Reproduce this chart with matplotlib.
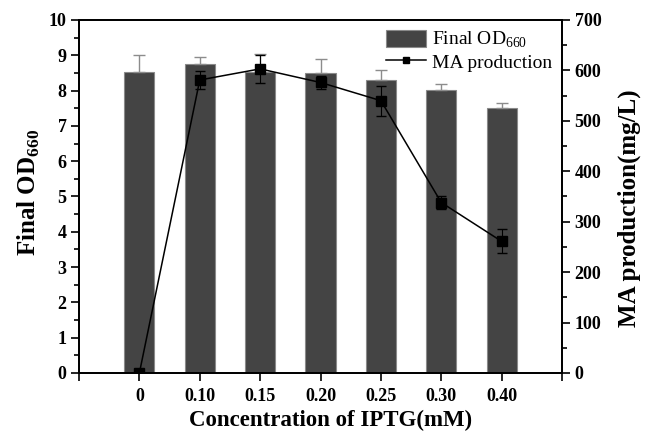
import matplotlib
matplotlib.use('Agg')
import matplotlib.pyplot as plt
from matplotlib.ticker import MultipleLocator
from matplotlib.lines import Line2D

plt.rcParams['font.family'] = ['Liberation Serif', 'DejaVu Serif']
plt.rcParams['mathtext.fontset'] = 'custom'
plt.rcParams['mathtext.rm'] = 'Liberation Serif'
plt.rcParams['mathtext.bf'] = 'Liberation Serif:bold'

# data
iptg = ['0', '0.10', '0.15', '0.20', '0.25', '0.30', '0.40']
od660 = [8.54, 8.76, 8.54, 8.50, 8.29, 8.01, 7.50]
od660_err = [0.46, 0.20, 0.49, 0.40, 0.28, 0.19, 0.14]
ma = [0, 581, 603, 576, 540, 338, 261]
ma_err = [0, 17, 28, 12, 30, 12, 24]

fig, ax = plt.subplots(figsize=(6.46, 4.34), dpi=100)
fig.subplots_adjust(left=0.1223, right=0.870, top=0.954, bottom=0.1406)

x = list(range(len(iptg)))
bars = ax.bar(x, od660, width=0.5, color='#444444', edgecolor='#8a8a8a', linewidth=0.8,
              yerr=[[0] * len(od660_err), od660_err],
              error_kw=dict(ecolor='#8c8c8c', elinewidth=1, capsize=4, capthick=1),
              zorder=2)

ax.set_xlim(-1, 7)
ax.set_ylim(0, 10)
ax.set_xticks(range(-1, 8))
ax.set_xticklabels([''] + iptg + [''])
ax.yaxis.set_major_locator(MultipleLocator(1))
ax.yaxis.set_minor_locator(MultipleLocator(0.5))
ax.tick_params(axis='x', direction='out', length=6, width=1.2, labelsize=13, pad=5)
ax.tick_params(axis='y', which='major', direction='out', length=6, width=1.2, labelsize=13, pad=3)
ax.tick_params(axis='y', which='minor', direction='out', length=3.5, width=1.2)
for lab in ax.get_xticklabels() + ax.get_yticklabels():
    lab.set_fontweight('bold')
ax.set_xlabel('Concentration of IPTG(mM)', fontsize=16.5, fontweight='bold', labelpad=3)
ax.xaxis.set_label_coords(0.52, -0.105)
ax.set_ylabel('Final OD$_{\\mathbf{660}}$', fontsize=18, fontweight='bold')
ax.yaxis.set_label_coords(-0.077, 0.51)

ax2 = ax.twinx()
ax2.errorbar(x, ma, yerr=ma_err, color='black', marker='s', markersize=7.5,
             linewidth=1.1, ecolor='black', elinewidth=0.8, capsize=3.5, zorder=3)
ax2.set_ylim(0, 700)
ax2.yaxis.set_major_locator(MultipleLocator(100))
ax2.yaxis.set_minor_locator(MultipleLocator(50))
ax2.tick_params(axis='y', which='major', direction='out', length=6, width=1.2, labelsize=13, pad=3)
ax2.tick_params(axis='y', which='minor', direction='out', length=3.5, width=1.2)
for lab in ax2.get_yticklabels():
    lab.set_fontweight('bold')
ax2.set_ylabel('MA production(mg/L)', fontsize=18, fontweight='bold')
ax2.yaxis.set_label_coords(1.114, 0.467)

for a in (ax, ax2):
    for s in a.spines.values():
        s.set_linewidth(1.3)

line_handle = Line2D([], [], color='black', marker='s', markersize=5, linewidth=1.1)
handles = [bars, line_handle]
labels = ['Final OD$_{660}$', 'MA production']
ax2.legend(handles, labels, loc='upper right', frameon=False, fontsize=14,
           handlelength=2.1, handleheight=1.0, handletextpad=0.3,
           borderaxespad=0.1, labelspacing=0.1)

fig.savefig('out.png', dpi=100)
